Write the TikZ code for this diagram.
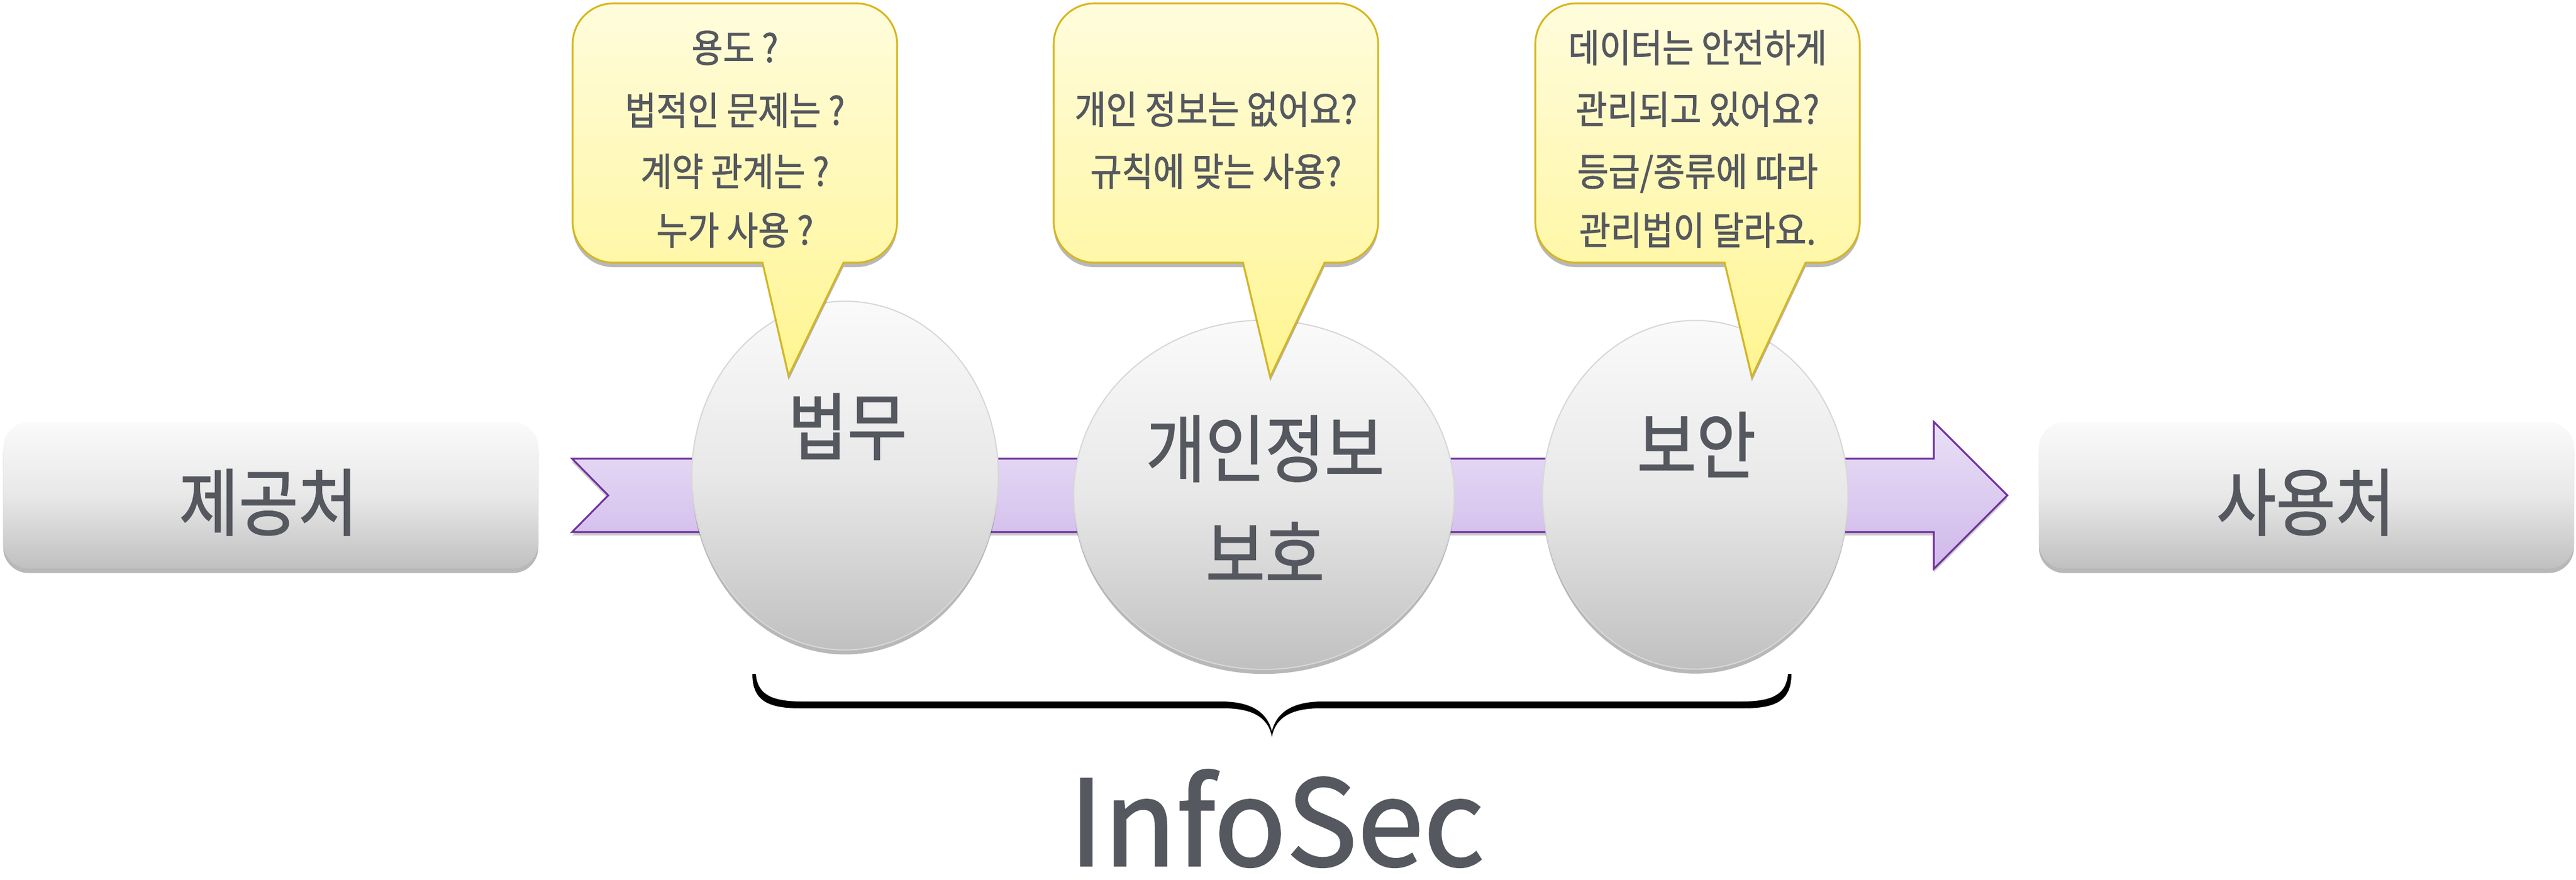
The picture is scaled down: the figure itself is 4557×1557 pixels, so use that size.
\documentclass[tikz,border=0pt]{standalone}
\usepackage{fontspec}
\setmainfont{Noto Sans CJK KR}[FakeStretch=0.88,FakeBold=1.3]
\newfontfamily\latinfont{Noto Sans CJK KR}[FakeBold=1.3]
\usetikzlibrary{shapes.geometric,shadows}
\definecolor{txt}{RGB}{85,88,95}
\definecolor{boxtop}{RGB}{250,250,250}
\definecolor{boxmid}{RGB}{232,232,232}
\definecolor{boxbot}{RGB}{192,192,192}
\definecolor{ellline}{RGB}{215,215,215}
\definecolor{arrtop}{RGB}{233,224,246}
\definecolor{arrbot}{RGB}{207,184,234}
\definecolor{arrline}{RGB}{112,48,160}
\definecolor{bubtop}{RGB}{255,252,220}
\definecolor{bubbot}{RGB}{255,245,145}
\definecolor{bubline}{RGB}{214,182,30}
\newcommand\mybubble[6]{%
  \path[bubble] (#4,465) [rounded corners=0.72cm] -- (#2,465) -- (#2,6) -- (#1,6) -- (#1,465) [sharp corners] -- (#3,465) -- (#5,#6) -- cycle;}
\begin{document}
\begin{tikzpicture}[x=0.01cm,y=-0.01cm,
  softshadow/.style={drop shadow={shadow xshift=0pt,shadow yshift=-0.08cm,opacity=0.28,fill=black}},
  endbox/.style={rectangle,rounded corners=0.45cm,minimum width=9.46cm,minimum height=2.59cm,
    top color=boxtop,bottom color=boxbot,middle color=boxmid,draw=none,softshadow},
  ball/.style={ellipse,inner sep=0pt,top color=boxtop,bottom color=boxbot,middle color=boxmid,
    draw=ellline,line width=0.6pt,softshadow},
  bubble/.style={top color=bubtop,bottom color=bubbot,draw=bubline,line width=0.9pt,softshadow},
  band/.style={top color=arrtop,bottom color=arrbot,draw=arrline,line width=0.9pt,
    drop shadow={shadow xshift=0pt,shadow yshift=-0.06cm,opacity=0.2,fill=black}},
  btxt/.style={anchor=base,inner sep=0pt,text=txt,font=\fontsize{19.5pt}{22pt}\selectfont},
  bigtxt/.style={anchor=base,inner sep=0pt,text=txt,font=\fontsize{37pt}{42pt}\selectfont},
  bracefill/.style={fill=black,draw=none}]
\useasboundingbox (0,0) rectangle (4557,1557);
% end boxes
\node[endbox] (src) at (479,877) {};
\node[endbox] (dst) at (4080,877) {};
\node[bigtxt] (srct) at (475,938) {제공처};
\node[bigtxt] (dstt) at (4079,938) {사용처};
% band arrow
\path[band] (1012,812) -- (3421,812) -- (3421,747) -- (3551,877) -- (3421,1007) -- (3421,942) -- (1012,942) -- (1076,877) -- cycle;
% ellipses
\node[ball,minimum width=5.42cm,minimum height=6.17cm] (law) at (1495,842) {};
\node[ball,minimum width=6.73cm,minimum height=6.18cm] (priv) at (2236,876) {};
\node[ball,minimum width=5.40cm,minimum height=6.17cm] (sec) at (2999,876) {};
\node[bigtxt] (lawt) at (1499,804) {법무};
\node[bigtxt] (privt1) at (2238,843) {개인정보};
\node[bigtxt] (privt2) at (2238,1030) {보호};
\node[bigtxt] (sect) at (3001,837) {보안};
% bubbles
\mybubble{1013}{1587}{1349}{1492}{1395}{665}
\mybubble{1864}{2438}{2199}{2343}{2247}{667}
\mybubble{2716}{3290}{3051}{3194}{3099}{667}
\node[btxt] (b1a) at (1300,110) {용도 ?};
\node[btxt] (b1b) at (1300,221) {법적인 문제는 ?};
\node[btxt] (b1c) at (1300,329) {계약 관계는 ?};
\node[btxt] (b1d) at (1300,433) {누가 사용 ?};
\node[btxt] (b2a) at (2151,219) {개인 정보는 없어요?};
\node[btxt] (b2b) at (2151,329) {규칙에 맞는 사용?};
\node[btxt] (b3a) at (3003,110) {데이터는 안전하게};
\node[btxt] (b3b) at (3003,219) {관리되고 있어요?};
\node[btxt] (b3c) at (3003,329) {등급/종류에 따라};
\node[btxt] (b3d) at (3003,433) {관리법이 달라요.};
% brace
\path[bracefill] (1331,1193) .. controls (1331,1238) and (1355,1254) .. (1415,1254) -- (2165,1254)
  .. controls (2222,1254) and (2245,1275) .. (2250,1305)
  .. controls (2255,1275) and (2278,1254) .. (2335,1254) -- (3085,1254)
  .. controls (3145,1254) and (3169,1238) .. (3169,1193)
  -- (3163,1193) .. controls (3160,1228) and (3138,1242) .. (3080,1242) -- (2340,1242)
  .. controls (2285,1242) and (2258,1262) .. (2250,1295)
  .. controls (2242,1262) and (2215,1242) .. (2160,1242) -- (1420,1242)
  .. controls (1362,1242) and (1340,1228) .. (1337,1193) -- cycle;
\node[anchor=base,inner sep=0pt,text=txt,font=\latinfont\fontsize{60pt}{66pt}\selectfont] (info) at (2258,1533) {InfoSec};
\end{tikzpicture}
\end{document}
